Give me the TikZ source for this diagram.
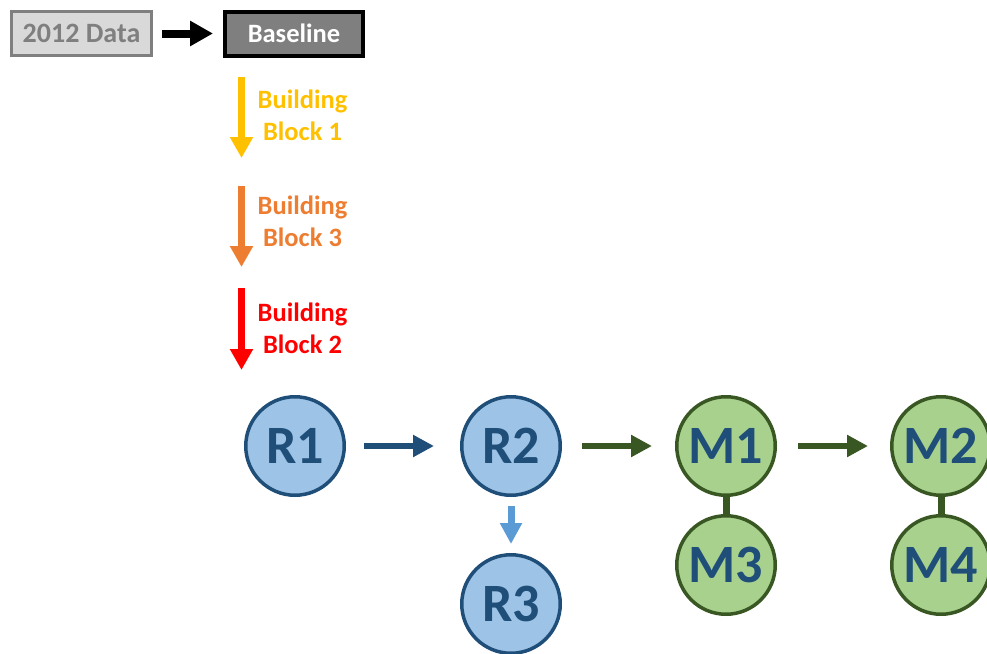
\documentclass[tikz,border=0pt]{standalone}
\usepackage{fontspec}
\setmainfont{Carlito}
\usetikzlibrary{arrows.meta}
\definecolor{dblue}{HTML}{1F4E79}
\definecolor{lblue}{HTML}{9DC3E6}
\definecolor{mblue}{HTML}{5B9BD5}
\definecolor{dgreen}{HTML}{385723}
\definecolor{lgreen}{HTML}{A9D18E}
\definecolor{bbyellow}{HTML}{FFC000}
\definecolor{bborange}{HTML}{ED7D31}
\definecolor{bbred}{HTML}{FF0000}
\definecolor{boxgray}{HTML}{D9D9D9}
\definecolor{midgray}{HTML}{7F7F7F}
\begin{document}
\begin{tikzpicture}[x=1pt,y=1pt,
  smalltext/.style={font=\fontsize{26.5}{32}\selectfont\bfseries},
  bigtext/.style={font=\fontsize{54}{60}\selectfont\bfseries, text=dblue},
  rnode/.style={circle, draw=dblue, fill=lblue, line width=3.5pt, minimum size=98.5pt, inner sep=0pt, bigtext},
  mnode/.style={circle, draw=dgreen, fill=lgreen, line width=3.5pt, minimum size=98.5pt, inner sep=0pt, bigtext},
  fatarrow/.style={line width=6pt, -{Triangle[length=21pt,width=21pt]}},
  bbarrow/.style={line width=7pt, -{Triangle[length=21pt,width=22pt]}},
  bblabel/.style={smalltext, align=center}
]
\useasboundingbox (0,0) rectangle (987,-653);

% top boxes
\node[draw=midgray, fill=boxgray, text=midgray, line width=3pt, minimum width=140pt, minimum height=44pt, inner sep=0pt, font=\fontsize{28}{32}\selectfont\bfseries] (data) at (81.5,-33.5) {2012 Data};
\node[draw=black, fill=midgray, text=white, line width=4pt, minimum width=138pt, minimum height=44pt, inner sep=0pt, smalltext] (base) at (294,-33.5) {Baseline};
\draw[black, line width=8pt, -{Triangle[length=23pt,width=24pt]}, shorten <=9pt, shorten >=10pt] (data) -- (base);

% building block arrows
\coordinate (b1s) at (241.5,-77);
\coordinate (b1e) at (241.5,-158);
\coordinate (b3s) at (241.5,-186);
\coordinate (b3e) at (241.5,-267);
\coordinate (b2s) at (241.5,-288);
\coordinate (b2e) at (241.5,-370);
\draw[bbarrow, bbyellow] (b1s) -- (b1e);
\draw[bbarrow, bborange] (b3s) -- (b3e);
\draw[bbarrow, bbred] (b2s) -- (b2e);
\node[bblabel, text=bbyellow] (l1) at (302.5,-115) {Building\\Block 1};
\node[bblabel, text=bborange] (l3) at (302.5,-221) {Building\\Block 3};
\node[bblabel, text=bbred] (l2) at (302.5,-328) {Building\\Block 2};

% circles
\node[rnode] (R1) at (295,-446) {R1};
\node[rnode] (R2) at (511,-446) {R2};
\node[rnode] (R3) at (511,-604) {R3};
\node[mnode] (M1) at (726,-446) {M1};
\node[mnode] (M3) at (726,-565) {M3};
\node[mnode] (M2) at (941,-446) {M2};
\node[mnode] (M4) at (941,-565) {M4};

% connectors
\draw[fatarrow, dblue, shorten <=18pt, shorten >=26pt] (R1) -- (R2);
\draw[fatarrow, dgreen, shorten <=20pt, shorten >=23pt] (R2) -- (M1);
\draw[fatarrow, dgreen, shorten <=21pt, shorten >=22pt] (M1) -- (M2);
\draw[mblue, line width=7pt, -{Triangle[length=21pt,width=21pt]}, shorten <=9pt, shorten >=9pt] (R2) -- (R3);
\draw[dgreen, line width=7pt] (M1) -- (M3);
\draw[dgreen, line width=7pt] (M2) -- (M4);
\end{tikzpicture}
\end{document}
